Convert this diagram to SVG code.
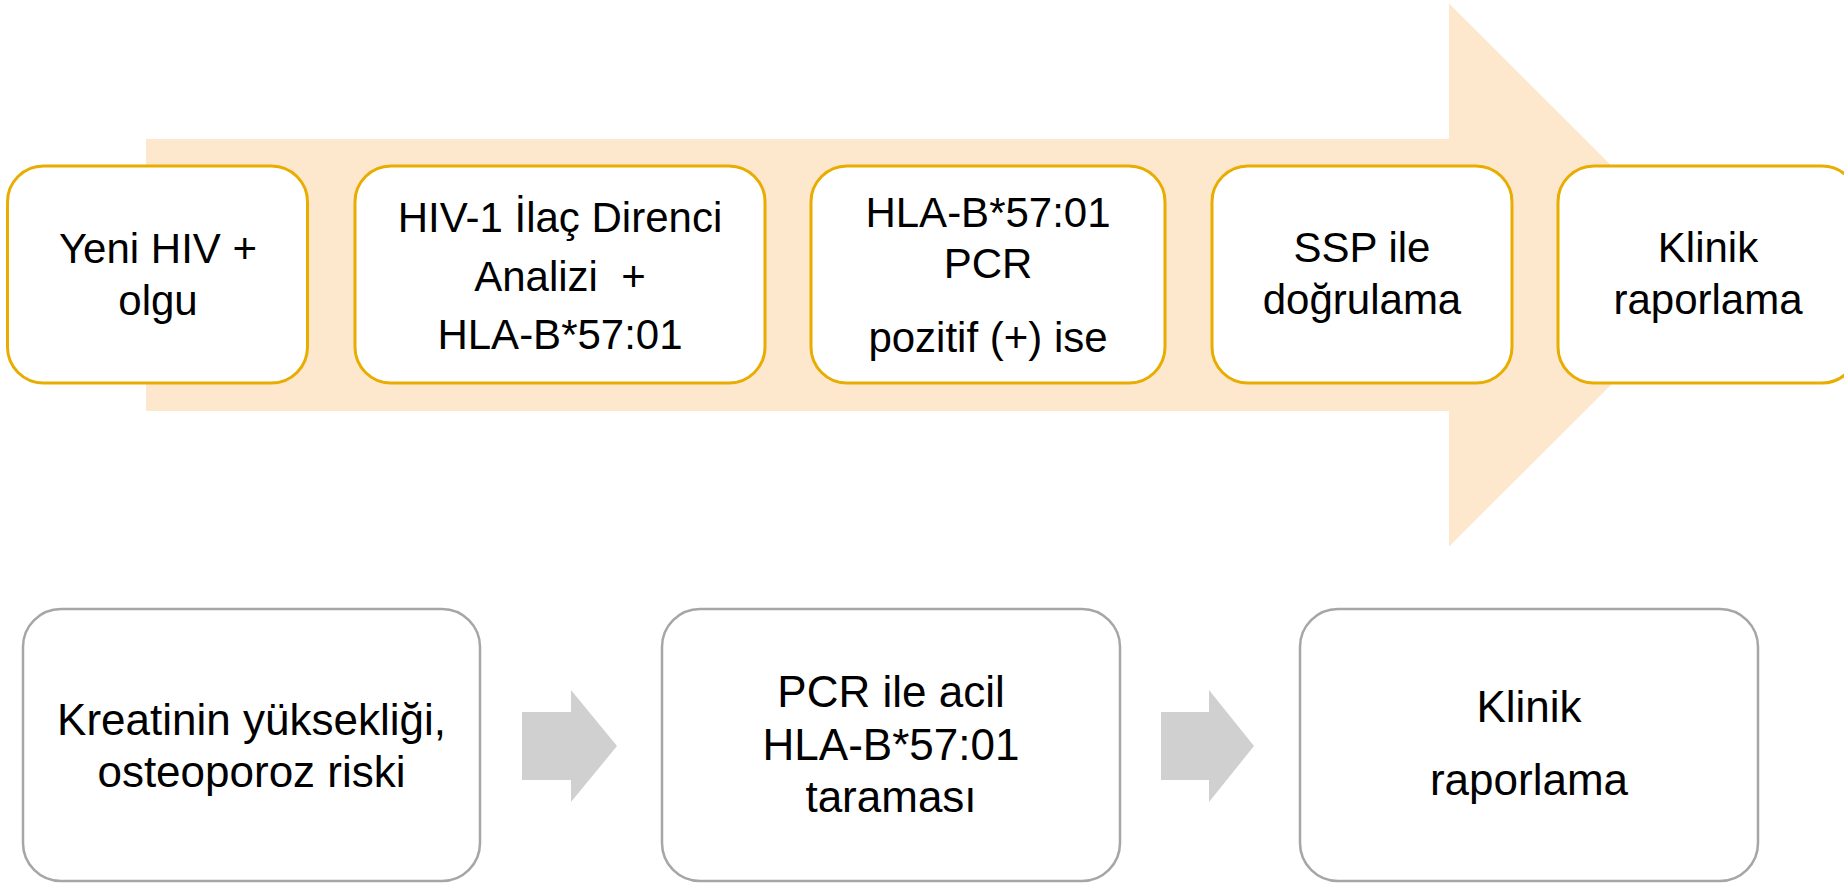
<svg xmlns="http://www.w3.org/2000/svg" width="1844" height="883" viewBox="0 0 1844 883">
<style>
.bg{fill:#ffffff}
.band{fill:#FDE7CD}
.top{fill:#ffffff;stroke:#E8AD00;stroke-width:3}
.bot{fill:#ffffff;stroke:#A6A6A6;stroke-width:2.5}
.conn{fill:#D0D0D0}
text{font-family:"Liberation Sans",Arial,sans-serif;font-size:42px;fill:#000000;text-anchor:middle}
.b text{font-size:44px}
</style>
<rect class="bg" x="0" y="0" width="1844" height="883"/>
<g id="process-arrow">
<polygon class="band" points="146,139 1449,139 1449,3.5 1721,275 1449,546.5 1449,411 146,411"/>
</g>
<g id="node-yeni-hiv">
<rect class="top" x="7.5" y="166" width="300" height="217" rx="36" ry="36"/>
<text x="158" y="263">Yeni HIV +</text>
<text x="158" y="315">olgu</text>
</g>
<g id="node-ilac-direnci">
<rect class="top" x="355" y="166" width="410" height="217" rx="36" ry="36"/>
<text x="560" y="232">HIV-1 İlaç Direnci</text>
<text x="560" y="291" xml:space="preserve">Analizi  +</text>
<text x="560" y="349">HLA-B*57:01</text>
</g>
<g id="node-hla-pcr">
<rect class="top" x="811" y="166" width="354" height="217" rx="36" ry="36"/>
<text x="988" y="227">HLA-B*57:01</text>
<text x="988" y="278">PCR</text>
<text x="988" y="352">pozitif (+) ise</text>
</g>
<g id="node-ssp">
<rect class="top" x="1212" y="166" width="300" height="217" rx="36" ry="36"/>
<text x="1362" y="262">SSP ile</text>
<text x="1362" y="314">doğrulama</text>
</g>
<g id="node-klinik-top">
<rect class="top" x="1558" y="166" width="300" height="217" rx="36" ry="36"/>
<text x="1708" y="262">Klinik</text>
<text x="1708" y="314">raporlama</text>
</g>
<g id="node-kreatinin" class="b">
<rect class="bot" x="23" y="609" width="457" height="272" rx="38" ry="38"/>
<text x="251.5" y="735">Kreatinin yüksekliği,</text>
<text x="251.5" y="787">osteoporoz riski</text>
</g>
<g id="node-pcr-acil" class="b">
<rect class="bot" x="662" y="609" width="458" height="272" rx="38" ry="38"/>
<text x="891" y="707">PCR ile acil</text>
<text x="891" y="760">HLA-B*57:01</text>
<text x="891" y="812">taraması</text>
</g>
<g id="node-klinik-bottom" class="b">
<rect class="bot" x="1300" y="609" width="458" height="272" rx="38" ry="38"/>
<text x="1529" y="722">Klinik</text>
<text x="1529" y="795">raporlama</text>
</g>
<g id="connectors">
<polygon class="conn" points="522,712 571,712 571,690 617,746 571,802 571,780 522,780"/>
<polygon class="conn" points="1161,712 1209,712 1209,690 1254,746 1209,802 1209,780 1161,780"/>
</g>
</svg>
